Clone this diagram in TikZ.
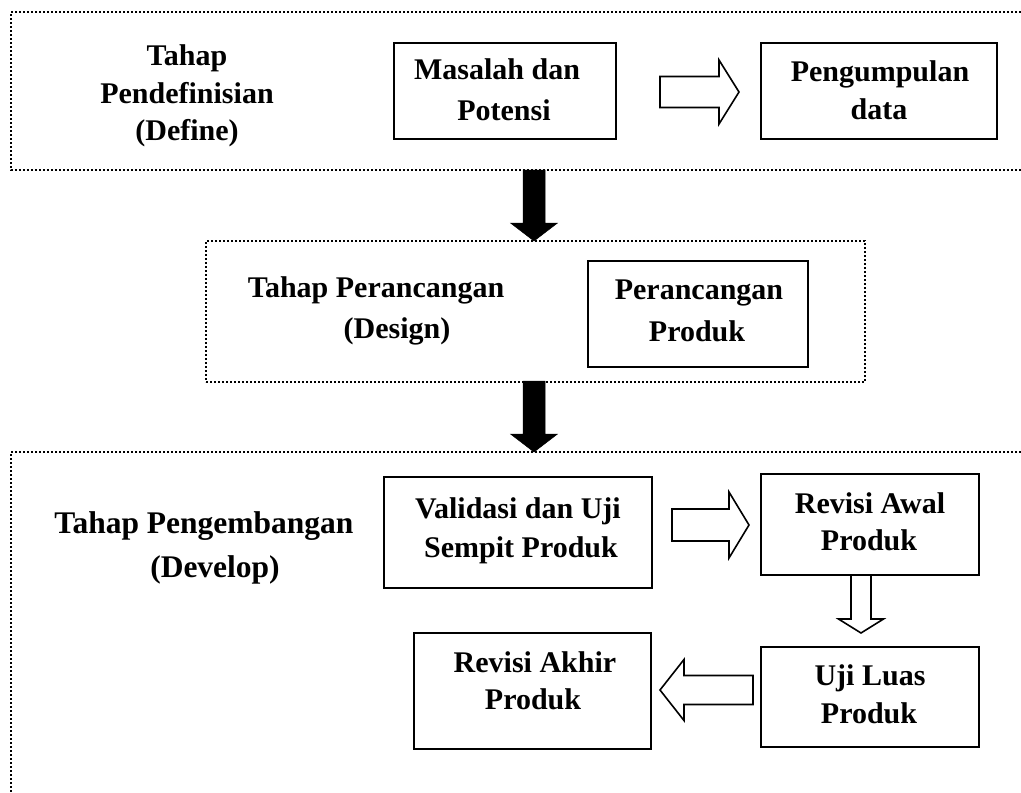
\documentclass[tikz,border=0pt]{standalone}
\usepackage{fontspec}
\setmainfont{Liberation Serif}
\usetikzlibrary{calc,fit}
\newcommand\blockarrow[6]{% #1 style, #2 tail, #3 tip, #4 shaft half width, #5 head half width, #6 head length
  \coordinate (ba-b) at ($(#3)!#6!(#2)$);
  \path[#1] ($(#2)!#4!90:(#3)$) -- ($(ba-b)!#4!90:(#3)$) -- ($(ba-b)!#5!90:(#3)$) -- (#3)
    -- ($(ba-b)!#5!-90:(#3)$) -- ($(ba-b)!#4!-90:(#3)$) -- ($(#2)!#4!-90:(#3)$) -- cycle;}
\tikzset{
  stage/.style={draw=black, line width=2pt, dash pattern=on 2pt off 2pt},
  box/.style={draw=black, line width=2pt, inner sep=0pt, rectangle},
  txt/.style={anchor=base, inner sep=0pt, font=\fontsize{30}{36}\selectfont\bfseries},
  bigtxt/.style={txt, font=\fontsize{31.5}{38}\selectfont\bfseries},
  hollow/.style={draw=black, fill=white, line width=1.6pt, line join=miter},
  solid arrow/.style={fill=black, draw=black, line width=0.5pt}
}
\begin{document}
\begin{tikzpicture}[x=1pt,y=-1pt]
\useasboundingbox (0,0) rectangle (1021,793);

% stage frames
\draw[stage] (1021,12) -- (11,12) -- (11,170) -- (1021,170);
\node[stage, inner sep=0pt, fit={(206,241) (865,382)}] (design) {};
\draw[stage] (1021,452) -- (11,452) -- (11,793);
\coordinate (defbottom) at (534,170);
\coordinate (devtop) at (534,452);

% Define stage
\node[txt] (d1) at (187,65) {Tahap};
\node[txt] (d2) at (187,103) {Pendefinisian};
\node[txt] (d3) at (187,140) {(Define)};

\node[box, fit={(394,43) (616,139)}] (mp) {};
\node[txt] (mp1) at (497,79) {Masalah dan};
\node[txt] (mp2) at (504,120) {Potensi};

\node[box, fit={(761,43) (997,139)}] (pd) {};
\node[txt] (pd1) at (880,81) {Pengumpulan};
\node[txt] (pd2) at (879,119) {data};

\coordinate (a1t) at (660,92);
\coordinate (a1h) at (739,92);
\blockarrow{hollow}{a1t}{a1h}{15.5pt}{32pt}{20pt}

% arrow Define -> Design
\coordinate (a2t) at (defbottom);
\coordinate (a2h) at (534,241);
\blockarrow{solid arrow}{a2t}{a2h}{11pt}{23.5pt}{18pt}

% Design stage
\node[txt] (s1) at (376,297) {Tahap Perancangan};
\node[txt] (s2) at (397,338) {(Design)};
\node[box, fit={(588,261) (808,367)}] (pp) {};
\node[txt] (pp1) at (699,299) {Perancangan};
\node[txt] (pp2) at (697,341) {Produk};

% arrow Design -> Develop
\coordinate (a3t) at (534,381);
\coordinate (a3h) at (devtop);
\blockarrow{solid arrow}{a3t}{a3h}{11pt}{23.5pt}{18pt}

% Develop stage
\node[bigtxt] (v1) at (204,533) {Tahap Pengembangan};
\node[bigtxt] (v2) at (215,577) {(Develop)};

\node[box, fit={(384,477) (652,588)}] (vu) {};
\node[txt] (vu1) at (518,518) {Validasi dan Uji};
\node[txt] (vu2) at (521,557) {Sempit Produk};

\node[box, fit={(761,474) (979,575)}] (ra) {};
\node[txt] (ra1) at (870,513) {Revisi Awal};
\node[txt] (ra2) at (869,550) {Produk};

\node[box, fit={(761,647) (979,747)}] (ul) {};
\node[txt] (ul1) at (870,685) {Uji Luas};
\node[txt] (ul2) at (869,723) {Produk};

\node[box, fit={(414,633) (651,749)}] (rk) {};
\node[txt] (rk1) at (535,672) {Revisi Akhir};
\node[txt] (rk2) at (533,709) {Produk};

\coordinate (a4t) at (672,525);
\coordinate (a4h) at (749,525);
\blockarrow{hollow}{a4t}{a4h}{16pt}{33pt}{20pt}

\coordinate (a5t) at (861,575);
\coordinate (a5h) at (861,633);
\blockarrow{hollow}{a5t}{a5h}{10pt}{22.5pt}{14pt}

\coordinate (a6t) at (753,690);
\coordinate (a6h) at (660,690);
\blockarrow{hollow}{a6t}{a6h}{14.5pt}{30.5pt}{24pt}
\end{tikzpicture}
\end{document}
